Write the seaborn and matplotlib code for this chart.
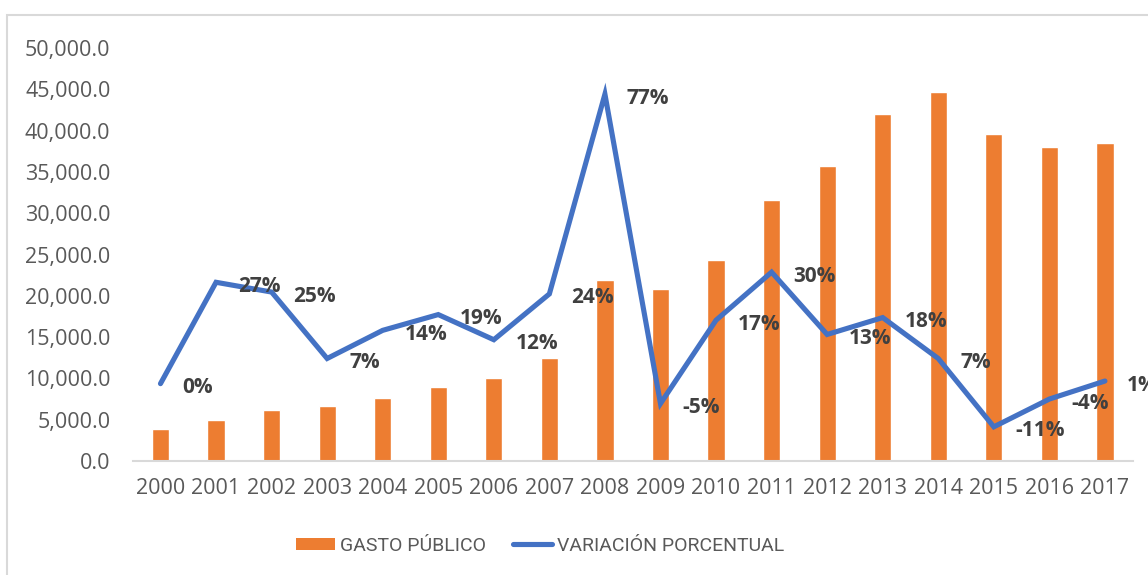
import numpy as np
import pandas as pd
import matplotlib
matplotlib.use("Agg")
import matplotlib.pyplot as plt
import seaborn as sns
from matplotlib.patches import Rectangle, Patch
from matplotlib.lines import Line2D
from matplotlib.ticker import FuncFormatter

# ---- data ----
years = [str(y) for y in range(2000, 2018)]
gasto_publico = [3920, 4980, 6190, 6640, 7570, 8990, 10000, 12430, 21940, 20770,
                 24370, 31580, 35700, 42000, 44700, 39600, 37980, 38460]
variacion = [0.006, 0.276, 0.25, 0.073, 0.148, 0.19, 0.123, 0.245, 0.777, -0.047,
             0.175, 0.303, 0.137, 0.182, 0.073, -0.109, -0.035, 0.013]
variacion_labels = ["0%", "27%", "25%", "7%", "14%", "19%", "12%", "24%", "77%", "-5%",
                    "17%", "30%", "13%", "18%", "7%", "-11%", "-4%", "1%"]
y_ticks = [0, 5000, 10000, 15000, 20000, 25000, 30000, 35000, 40000, 45000, 50000]

ORANGE = "#ED7D31"
BLUE = "#4472C4"
GRAY = "#595959"
DARK = "#404040"

sns.set_theme(style="white")
plt.rcParams["font.family"] = ["Open Sans", "DejaVu Sans"]

W, H = 1148, 575
fig = plt.figure(figsize=(W / 100, H / 100), dpi=100)
ax = fig.add_axes([132.7 / W, 1 - 461 / H, 1000 / W, (461 - 48) / H])

df = pd.DataFrame({"year": years, "gasto": gasto_publico})
sns.barplot(data=df, x="year", y="gasto", color=ORANGE, saturation=1, width=0.31, ax=ax)
ax.set_xlim(-0.5, len(years) - 0.5)
ax.set_ylim(0, 50000)
ax.set_yticks(y_ticks)
ax.yaxis.set_major_formatter(FuncFormatter(lambda v, p: f"{v:,.1f}"))
ax.set_xlabel("")
ax.set_ylabel("")
ax.tick_params(axis="y", length=0, pad=16, labelsize=15.5, labelcolor=GRAY)
ax.tick_params(axis="x", length=0, pad=12, labelsize=15.5, labelcolor=GRAY)
for s in ["top", "right", "left"]:
    ax.spines[s].set_visible(False)
ax.spines["bottom"].set_color("#D9D9D9")
ax.spines["bottom"].set_linewidth(1.5)

ax2 = ax.twinx()
xpos = np.arange(len(years))
sns.lineplot(x=xpos, y=variacion, color=BLUE, linewidth=3.7, ax=ax2,
             solid_joinstyle="miter")
ax2.set_ylim(-0.2, 0.9)
ax2.set_xlim(-0.5, len(years) - 0.5)
ax2.set_yticks([])
for s in ax2.spines.values():
    s.set_visible(False)

for xi, v, lab in zip(xpos, variacion, variacion_labels):
    ax2.annotate(lab, (xi, v), xytext=(22, -4), textcoords="offset pixels",
                 ha="left", va="center", fontsize=15, fontweight="bold",
                 color=DARK, annotation_clip=False)

handles = [Patch(facecolor=ORANGE, edgecolor="none"),
           Line2D([0], [0], color=BLUE, linewidth=3.7)]
fig.legend(handles, ["GASTO PÚBLICO", "VARIACIÓN PORCENTUAL"], ncol=2,
           loc="center", bbox_to_anchor=(540 / W, 1 - 546 / H), frameon=False,
           prop={"family": ["Roboto", "DejaVu Sans"], "size": 14},
           labelcolor=GRAY, handlelength=2.0, handletextpad=0.25,
           columnspacing=1.4, handleheight=0.6)

fig.patches.append(Rectangle((7 / W, -0.1), 1.2, (1 - 15 / H) + 0.1,
                             transform=fig.transFigure, fill=False,
                             edgecolor="#D9D9D9", linewidth=1.5))

fig.savefig("out.png", dpi=100)
